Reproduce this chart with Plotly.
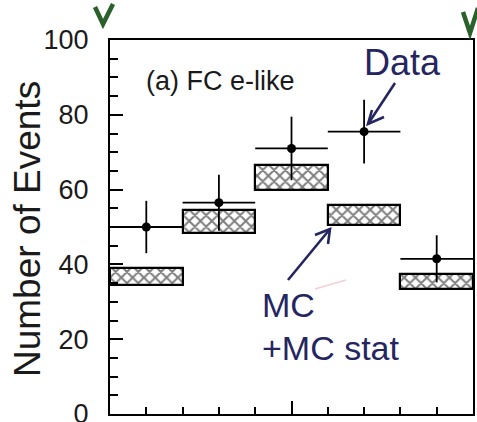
import plotly.graph_objects as go

# Five bins; bin centres on a 0..5 axis
bin_centres = [0.5, 1.5, 2.5, 3.5, 4.5]
bin_half_width = [0.5, 0.5, 0.5, 0.5, 0.5]

# Observed events and their statistical errors
data_events = [50.0, 56.5, 71.0, 75.5, 41.5]
data_errors = [7.0, 7.5, 8.5, 8.5, 6.3]

# MC expectation band (lower and upper edge, MC statistics)
mc_low = [34.5, 48.5, 60.0, 50.5, 33.5]
mc_high = [39.0, 54.5, 66.5, 56.0, 37.5]

y_tick_values = [0, 20, 40, 60, 80, 100]
y_tick_text = ["0", "20", "40", "60", "80", "100"]

W, H = 477, 422
L, R, T, B = 110, 4, 40, 8
PW, PH = W - L - R, H - T - B

INK = "#25255f"
GREEN = "#2a602a"
TEXT = "#1a1a1a"


def px(x):
    return (x - L) / PW


def py(y):
    return (H - B - y) / PH


fig = go.Figure()

fig.add_trace(go.Bar(
    x=bin_centres,
    y=[h - l for l, h in zip(mc_low, mc_high)],
    base=mc_low,
    width=1.0,
    marker=dict(
        color="white",
        line=dict(color="black", width=2.2),
        pattern=dict(shape="x", size=8, solidity=0.45,
                     fgcolor="black", bgcolor="white"),
    ),
    showlegend=False,
))

fig.add_trace(go.Scatter(
    x=bin_centres,
    y=data_events,
    mode="markers",
    marker=dict(color="black", size=9),
    error_y=dict(type="data", array=data_errors, width=0,
                 thickness=1.8, color="black"),
    error_x=dict(type="data", array=bin_half_width, width=0,
                 thickness=1.8, color="black"),
    showlegend=False,
))

shapes = []


def pen(points, color, width):
    d = "M " + " L ".join(f"{px(x):.5f},{py(y):.5f}" for x, y in points)
    shapes.append(dict(type="path", xref="paper", yref="paper", path=d,
                       line=dict(color=color, width=width)))


# hand-drawn arrows
pen([(395, 83), (368, 124)], INK, 2.6)
pen([(372, 110), (368, 124), (384, 117)], INK, 2.6)
pen([(288, 280), (330, 229)], INK, 2.6)
pen([(315, 235), (330, 229), (328, 244)], INK, 2.6)
# faint pencil stroke
pen([(315, 289), (346, 280)], "#f2cfd6", 1.5)
# green check marks
pen([(95, 7), (103, 24), (113, 4)], GREEN, 4.5)
pen([(463, 12), (470, 33), (478, 8)], GREEN, 4.5)

annotations = [
    dict(text="(a) FC e-like", x=px(144), y=py(81), xref="paper", yref="paper",
         xanchor="left", yanchor="middle", showarrow=False,
         font=dict(family="Liberation Sans", size=27, color=TEXT)),
    dict(text="Number of Events", x=px(27), y=py(229), xref="paper", yref="paper",
         xanchor="center", yanchor="middle", textangle=-90, showarrow=False,
         font=dict(family="Liberation Sans", size=37, color=TEXT)),
    dict(text="Data", x=px(362), y=py(62), xref="paper", yref="paper",
         xanchor="left", yanchor="middle", showarrow=False,
         font=dict(family="Liberation Sans", size=36, color=INK)),
    dict(text="MC", x=px(260), y=py(305), xref="paper", yref="paper",
         xanchor="left", yanchor="middle", showarrow=False,
         font=dict(family="Liberation Sans", size=34, color=INK)),
    dict(text="+MC stat", x=px(260), y=py(348), xref="paper", yref="paper",
         xanchor="left", yanchor="middle", showarrow=False,
         font=dict(family="Liberation Sans", size=34, color=INK)),
]

fig.update_layout(
    width=W, height=H,
    margin=dict(l=L, r=R, t=T, b=B, autoexpand=False),
    paper_bgcolor="white", plot_bgcolor="white",
    shapes=shapes, annotations=annotations,
    bargap=0,
    xaxis=dict(
        range=[0, 5], showgrid=False, zeroline=False, automargin=False,
        showline=True, linecolor="black", linewidth=2, mirror=True,
        tickvals=[2.5], ticks="inside", ticklen=13, tickwidth=1.5,
        tickcolor="black", showticklabels=False,
        minor=dict(dtick=0.5, tick0=0, ticks="inside", ticklen=7,
                   tickwidth=1.5, tickcolor="black"),
    ),
    yaxis=dict(
        range=[0, 100], showgrid=False, zeroline=False, automargin=False,
        showline=True, linecolor="black", linewidth=2, mirror=True,
        tickvals=y_tick_values, ticktext=y_tick_text,
        ticks="inside", ticklen=13, tickwidth=1.5, tickcolor="black",
        ticklabelstandoff=14, ticklabeloverflow="allow",
        tickfont=dict(family="Liberation Sans", size=27, color=TEXT),
        minor=dict(dtick=5, tick0=0, ticks="inside", ticklen=8,
                   tickwidth=1.5, tickcolor="black"),
    ),
)

fig.write_html("out.html")
